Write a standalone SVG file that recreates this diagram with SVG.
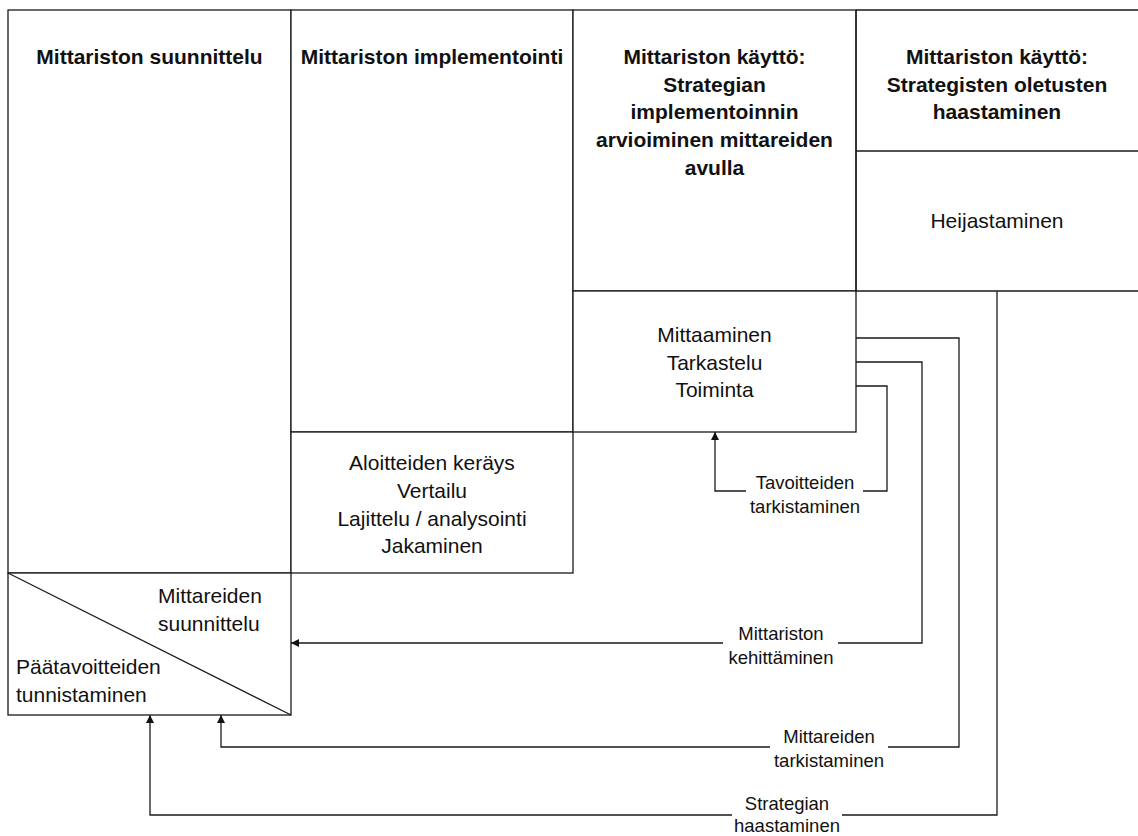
<svg xmlns="http://www.w3.org/2000/svg" width="1138" height="836" viewBox="0 0 1138 836">
  <defs>
    <marker id="arrow" viewBox="0 0 10 10" refX="10" refY="5" markerWidth="9" markerHeight="8" markerUnits="userSpaceOnUse" orient="auto">
      <path d="M0,0 L10,5 L0,10 Z" fill="#111"/>
    </marker>
    <style>
      .box { fill: #fff; stroke: #1a1a1a; stroke-width: 1.3; }
      .ln { fill: none; stroke: #1a1a1a; stroke-width: 1.3; }
      .hd { font-family: "Liberation Sans", Arial, sans-serif; font-size: 21px; font-weight: bold; fill: #111; text-anchor: middle; }
      .tx { font-family: "Liberation Sans", Arial, sans-serif; font-size: 21px; fill: #111; text-anchor: middle; }
      .tl { font-family: "Liberation Sans", Arial, sans-serif; font-size: 21px; fill: #111; text-anchor: start; }
      .lb { font-family: "Liberation Sans", Arial, sans-serif; font-size: 18.5px; fill: #111; text-anchor: middle; }
    </style>
  </defs>
  <rect width="1138" height="836" fill="#fff"/>

  <!-- Column 1: design -->
  <g id="suunnittelu">
    <rect class="box" x="8" y="10" width="283" height="563"/>
    <text class="hd" x="149.5" y="64">Mittariston suunnittelu</text>
  </g>

  <!-- Column 2: implementation -->
  <g id="implementointi">
    <rect class="box" x="291" y="10" width="282" height="422"/>
    <text class="hd" x="432" y="64">Mittariston implementointi</text>
  </g>
  <g id="aloitteet">
    <rect class="box" x="291" y="432" width="282" height="141"/>
    <text class="tx" x="432" y="470">Aloitteiden keräys</text>
    <text class="tx" x="432" y="498">Vertailu</text>
    <text class="tx" x="432" y="526">Lajittelu / analysointi</text>
    <text class="tx" x="432" y="553">Jakaminen</text>
  </g>

  <!-- Column 3: use, evaluating strategy implementation -->
  <g id="kaytto-arviointi">
    <rect class="box" x="573" y="10" width="283" height="281"/>
    <text class="hd" x="714.5" y="64">Mittariston käyttö:</text>
    <text class="hd" x="714.5" y="92">Strategian</text>
    <text class="hd" x="714.5" y="119">implementoinnin</text>
    <text class="hd" x="714.5" y="147">arvioiminen mittareiden</text>
    <text class="hd" x="714.5" y="175">avulla</text>
  </g>
  <g id="mittaaminen">
    <rect class="box" x="573" y="291" width="283" height="141"/>
    <text class="tx" x="714.5" y="342">Mittaaminen</text>
    <text class="tx" x="714.5" y="369.5">Tarkastelu</text>
    <text class="tx" x="714.5" y="397">Toiminta</text>
  </g>

  <!-- Column 4: use, challenging strategic assumptions -->
  <g id="kaytto-haastaminen">
    <path class="ln" d="M856,10 H1138 M856,10 V151 M856,151 H1138"/>
    <text class="hd" x="997" y="64">Mittariston käyttö:</text>
    <text class="hd" x="997" y="92">Strategisten oletusten</text>
    <text class="hd" x="997" y="119">haastaminen</text>
  </g>
  <g id="heijastaminen">
    <path class="ln" d="M856,151 V291 H1138"/>
    <text class="tx" x="997" y="228">Heijastaminen</text>
  </g>

  <!-- Split box: goal identification / metric design -->
  <g id="mittareiden-suunnittelu">
    <rect class="box" x="8" y="573" width="283" height="142"/>
    <path class="ln" d="M8,573 L291,715"/>
    <text class="tl" x="158" y="603">Mittareiden</text>
    <text class="tl" x="158" y="631">suunnittelu</text>
    <text class="tl" x="16" y="674">Päätavoitteiden</text>
    <text class="tl" x="16" y="702">tunnistaminen</text>
  </g>

  <!-- Feedback connectors -->
  <g id="connectors">
    <path class="ln" d="M856,386 H887 V491 H863 M746,491 H715 V432" marker-end="url(#arrow)"/>
    <text class="lb" x="805" y="489">Tavoitteiden</text>
    <text class="lb" x="805" y="513">tarkistaminen</text>

    <path class="ln" d="M856,362 H922 V643 H838 M723,643 H291" marker-end="url(#arrow)"/>
    <text class="lb" x="781" y="640">Mittariston</text>
    <text class="lb" x="781" y="664">kehittäminen</text>

    <path class="ln" d="M856,338 H959 V747 H888 M770,747 H221 V715" marker-end="url(#arrow)"/>
    <text class="lb" x="829" y="743">Mittareiden</text>
    <text class="lb" x="829" y="767">tarkistaminen</text>

    <path class="ln" d="M997,291 V815 H842 M732,815 H150 V715" marker-end="url(#arrow)"/>
    <text class="lb" x="787" y="810">Strategian</text>
    <text class="lb" x="787" y="832">haastaminen</text>
  </g>
</svg>
